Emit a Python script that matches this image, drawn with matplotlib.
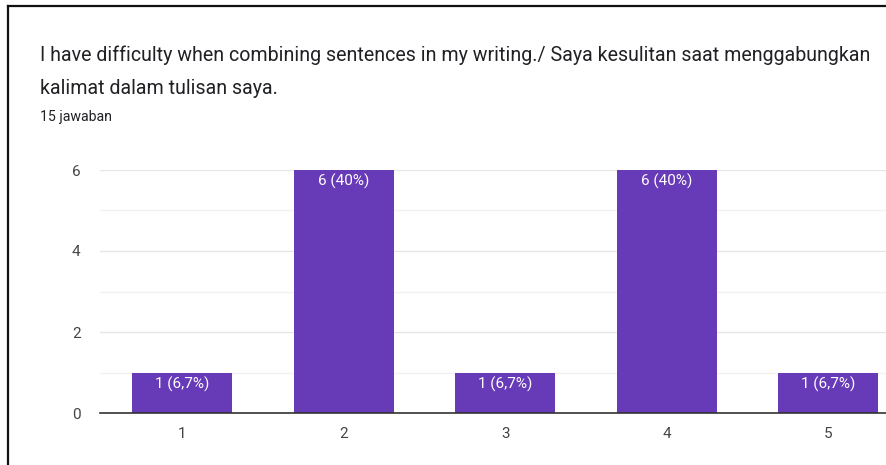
import matplotlib
matplotlib.use("Agg")
from matplotlib import pyplot as plt
from matplotlib.lines import Line2D
import numpy as np

plt.rcParams["font.family"] = ["Roboto", "DejaVu Sans"]

categories = ["1", "2", "3", "4", "5"]
counts = [1, 6, 1, 6, 1]
bar_labels = ["1 (6,7%)", "6 (40%)", "1 (6,7%)", "6 (40%)", "1 (6,7%)"]
yticks = [0, 2, 4, 6]

title_1 = "I have difficulty when combining sentences in my writing./ Saya kesulitan saat menggabungkan"
title_2 = "kalimat dalam tulisan saya."
subtitle = "15 jawaban"

purple = "#673ab7"

fig = plt.figure(figsize=(8.87, 4.65), dpi=100)
ax = fig.add_axes([100 / 887, 1 - 413 / 465, 1 - 100 / 887, (413 - 170) / 465])

x = np.arange(1, len(categories) + 1)
bars = ax.bar(x, counts, width=0.62, color=purple, zorder=3)

for b, lab in zip(bars, bar_labels):
    ax.annotate(lab, (b.get_x() + b.get_width() / 2, b.get_height()),
                xytext=(0, -3), textcoords="offset points",
                ha="center", va="top", color="white", fontsize=11, zorder=4)

ax.set_xlim(0.49, 5.365)
ax.set_ylim(0, 6)
ax.set_xticks(x, categories)
ax.set_yticks(yticks)
ax.set_yticks([1, 3, 5], minor=True)
ax.grid(axis="y", which="major", color="#e6e6e6", linewidth=1, zorder=0)
ax.grid(axis="y", which="minor", color="#f2f2f2", linewidth=1, zorder=0)
ax.tick_params(axis="both", which="both", length=0, labelsize=11, colors="#444444")
ax.tick_params(axis="x", pad=10)
ax.tick_params(axis="y", pad=14)
for s in ["top", "right", "left"]:
    ax.spines[s].set_visible(False)
ax.spines["bottom"].set_color("#333333")
ax.spines["bottom"].set_linewidth(1.2)
ax.spines["bottom"].set_zorder(5)

fig.text(40 / 887, 1 - 55 / 465, title_1, fontsize=14.1, color="#202124", va="center")
fig.text(40 / 887, 1 - 89 / 465, title_2, fontsize=14.1, color="#202124", va="center")
fig.text(40 / 887, 1 - 117 / 465, subtitle, fontsize=10.2, color="#202124", va="center")

# frame lines along the top and left edge
fig.add_artist(Line2D([8.5 / 887, 1], [1 - 6.5 / 465, 1 - 6.5 / 465], color="#111111", linewidth=1.6))
fig.add_artist(Line2D([8.5 / 887, 8.5 / 887], [0, 1 - 6.5 / 465], color="#111111", linewidth=1.6))

fig.savefig("out.png", dpi=100)
